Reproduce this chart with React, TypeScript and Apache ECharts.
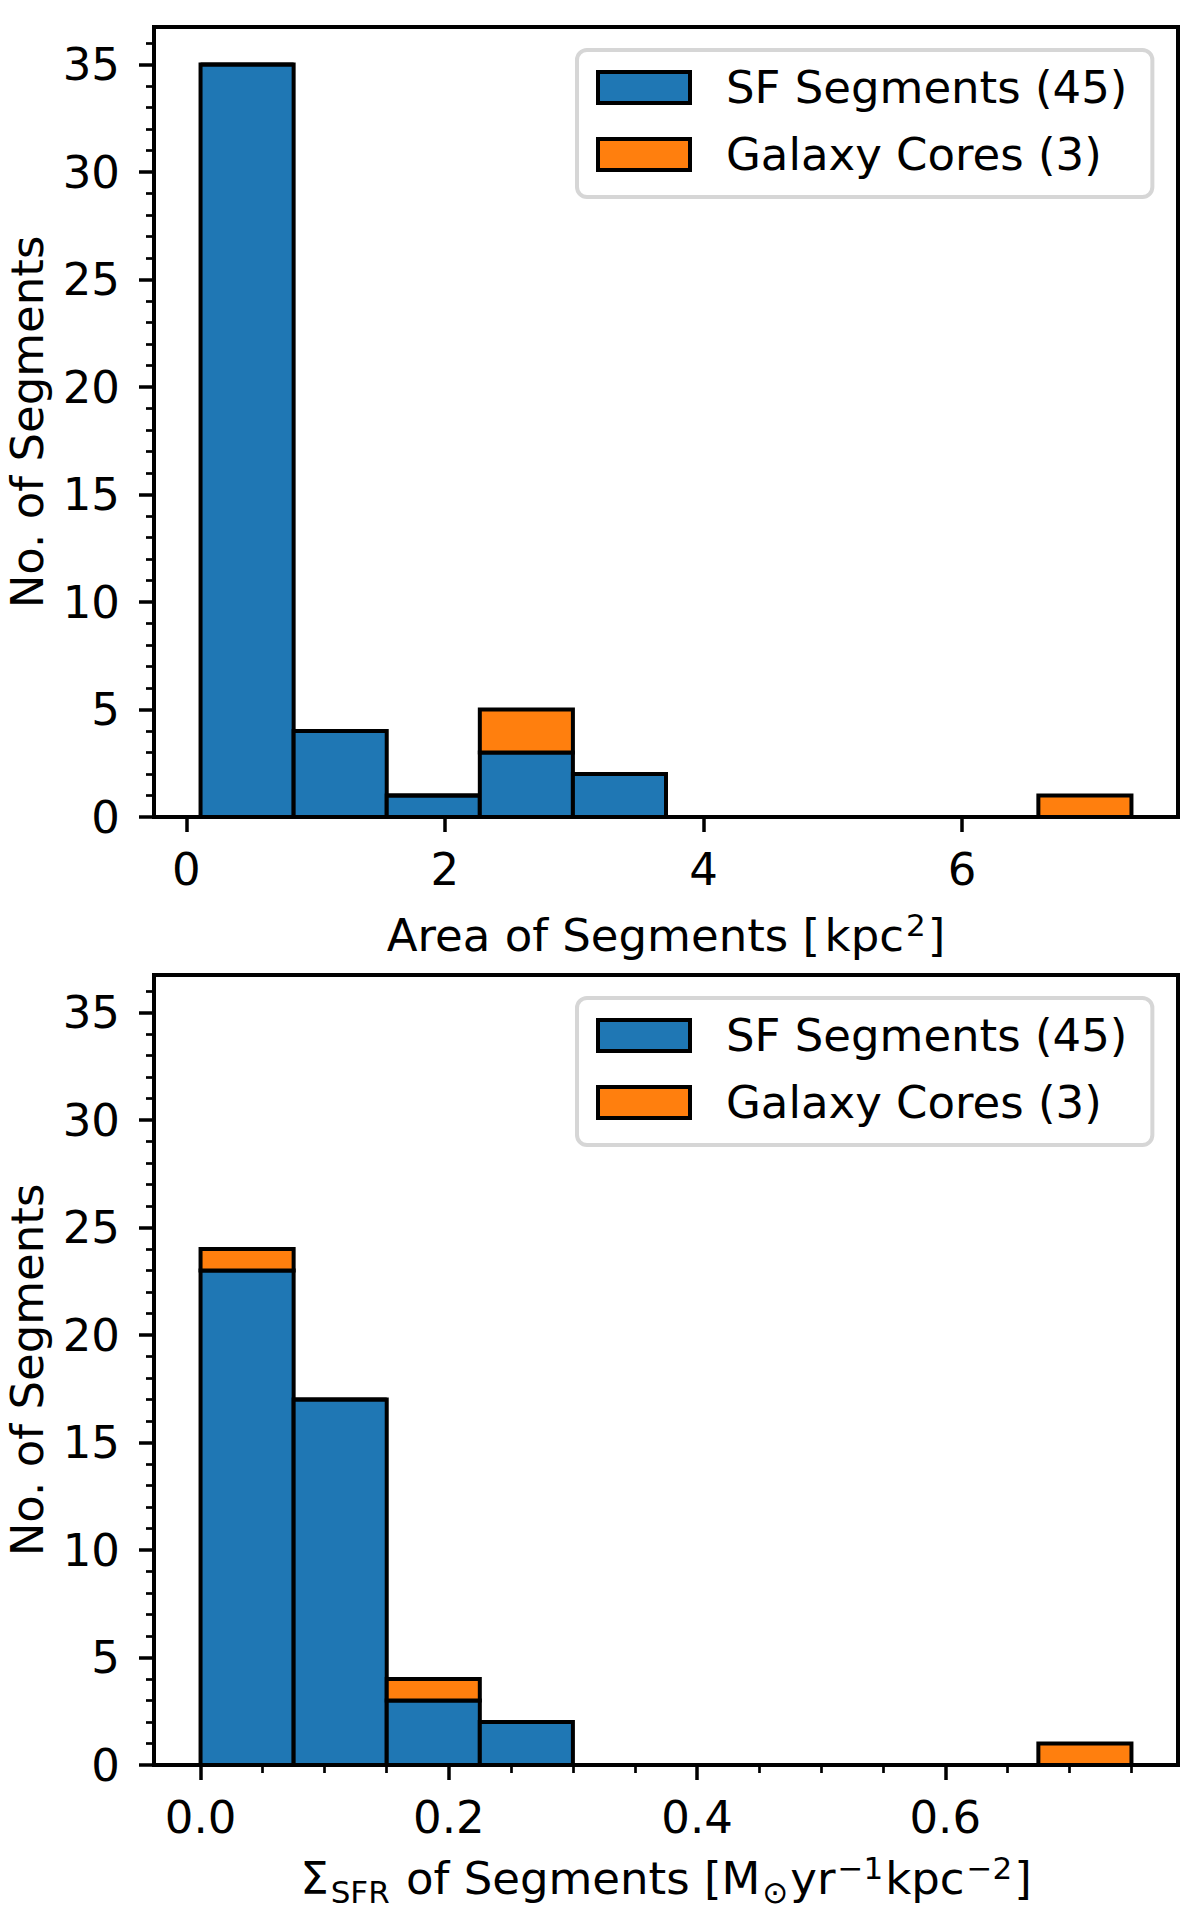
import React, { useEffect, useRef } from "react";
import * as echarts from "echarts";

const FONT = "DejaVu Sans";

// ---- data ----
const areaBinEdges = [0.11, 0.83, 1.55, 2.27, 2.99, 3.71, 4.43, 5.15, 5.87, 6.59, 7.31];
const areaSF = [35, 4, 1, 3, 2, 0, 0, 0, 0, 0];
const areaCores = [0, 0, 0, 2, 0, 0, 0, 0, 0, 1];

const sfrBinEdges = [0, 0.075, 0.15, 0.225, 0.3, 0.375, 0.45, 0.525, 0.6, 0.675, 0.75];
const sfrSF = [23, 17, 3, 2, 0, 0, 0, 0, 0, 0];
const sfrCores = [1, 0, 1, 0, 0, 0, 0, 0, 0, 1];

const yMajorTicks = [0, 5, 10, 15, 20, 25, 30, 35];
const yMinorTicks = [1, 2, 3, 4, 6, 7, 8, 9, 11, 12, 13, 14, 16, 17, 18, 19, 21, 22, 23, 24, 26, 27, 28, 29, 31, 32, 33, 34, 36];
const areaXTicks = [0, 2, 4, 6];
const sfrXTicks = [0, 0.2, 0.4, 0.6];
const sfrXMinorTicks = [0.05, 0.1, 0.15, 0.25, 0.3, 0.35, 0.45, 0.5, 0.55, 0.65, 0.7, 0.75];

const seriesNames = ["SF Segments (45)", "Galaxy Cores (3)"];
const seriesColors = ["#1f77b4", "#ff7f0e"];

const yLabel = "No. of Segments";
const areaXLabel = "Area of Segments [\u200Akpc{sup|2}]";
const sfrXLabel = "Σ{sub|SFR} of Segments [M{sub|⊙}yr{sup|−1}kpc{sup|−2}]";

const areaRange = [-0.25, 7.67];
const sfrRange = [-0.0375, 0.7875];
const yRange = [0, 36.75];

// ---- layout ----
const GRID_LEFT = 154;
const GRID_WIDTH = 1024;
const GRID_HEIGHT = 790;
const GRID_TOPS = [27, 975];
const FS = 45;

const richStyles = {
  sup: { fontSize: 31, fontFamily: FONT, color: "#000", lineHeight: 28, padding: [0, 2, 20, 2] },
  sub: { fontSize: 31, fontFamily: FONT, color: "#000", lineHeight: 22, padding: [27, 2, 0, 2] },
};

function histSeries(name: string, color: string, edges: number[], counts: number[], base: number[], xi: number, yi: number) {
  const data = counts.map((c, i) => [edges[i], edges[i + 1], base[i], base[i] + c]);
  return {
    type: "custom",
    name,
    xAxisIndex: xi,
    yAxisIndex: yi,
    itemStyle: { color },
    encode: { x: [0, 1], y: [2, 3] },
    clip: false,
    z: 3,
    renderItem: (params: any, api: any) => {
      const p0 = api.coord([api.value(0), api.value(2)]);
      const p1 = api.coord([api.value(1), api.value(3)]);
      return {
        type: "rect",
        shape: { x: p0[0], y: p1[1], width: p1[0] - p0[0], height: p0[1] - p1[1] },
        style: { fill: color, stroke: "#000", lineWidth: 4 },
      };
    },
    data,
  };
}

function majorXAxis(grid: number, range: number[], ticks: number[], name: string, fmt: (v: number) => string, nameGap: number) {
  return {
    type: "value",
    gridIndex: grid,
    position: "bottom",
    min: range[0],
    max: range[1],
    axisLine: { show: false, onZero: false },
    splitLine: { show: false },
    axisTick: { show: true, customValues: ticks, length: 15, lineStyle: { color: "#000", width: 3.5 } },
    axisLabel: {
      show: true,
      customValues: ticks,
      formatter: fmt,
      fontSize: FS,
      fontFamily: FONT,
      color: "#000",
      margin: 30,
      lineHeight: FS,
    },
    name,
    nameLocation: "middle",
    nameGap,
    nameTextStyle: { fontSize: FS, fontFamily: FONT, color: "#000", lineHeight: 50, rich: richStyles },
  };
}

function minorXAxis(grid: number, range: number[], ticks: number[]) {
  return {
    type: "value",
    gridIndex: grid,
    position: "bottom",
    min: range[0],
    max: range[1],
    axisLine: { show: false, onZero: false },
    splitLine: { show: false },
    axisTick: { show: true, customValues: ticks, length: 8, lineStyle: { color: "#000", width: 2.7 } },
    axisLabel: { show: false },
  };
}

function majorYAxis(grid: number) {
  return {
    type: "value",
    gridIndex: grid,
    position: "left",
    min: yRange[0],
    max: yRange[1],
    axisLine: { show: false, onZero: false },
    splitLine: { show: false },
    axisTick: { show: true, customValues: yMajorTicks, length: 15, lineStyle: { color: "#000", width: 3.5 } },
    axisLabel: {
      show: true,
      customValues: yMajorTicks,
      fontSize: FS,
      fontFamily: FONT,
      color: "#000",
      margin: 34,
    },
    name: yLabel,
    nameLocation: "middle",
    nameRotate: 90,
    nameGap: 104,
    nameTextStyle: { fontSize: FS, fontFamily: FONT, color: "#000", lineHeight: 45 },
  };
}

function minorYAxis(grid: number) {
  return {
    type: "value",
    gridIndex: grid,
    position: "left",
    min: yRange[0],
    max: yRange[1],
    axisLine: { show: false, onZero: false },
    splitLine: { show: false },
    axisTick: { show: true, customValues: yMinorTicks, length: 8, lineStyle: { color: "#000", width: 2.7 } },
    axisLabel: { show: false },
  };
}

function legendAt(top: number) {
  return {
    show: true,
    left: 577,
    top,
    orient: "vertical",
    data: seriesNames,
    selectedMode: false,
    icon: "rect",
    itemWidth: 92,
    itemHeight: 31,
    itemGap: 22,
    itemStyle: { borderColor: "#000", borderWidth: 4 },
    textStyle: { fontSize: FS, fontFamily: FONT, color: "#000", padding: [0, 0, 0, 31] },
    backgroundColor: "#fff",
    borderColor: "#d6d6d6",
    borderWidth: 4,
    borderRadius: 10,
    padding: [15, 25, 20, 19],
  };
}

export default function App() {
  const ref = useRef<HTMLDivElement>(null);

  useEffect(() => {
    document.body.style.margin = "0";
    if (!ref.current) return;
    const chart = echarts.init(ref.current, undefined, { renderer: "svg" });

    const oneDecimal = (v: number) => v.toFixed(1);
    const integer = (v: number) => String(Math.round(v));

    const option = {
      animation: false,
      backgroundColor: "#fff",
      grid: GRID_TOPS.map((top) => ({
        left: GRID_LEFT,
        top,
        width: GRID_WIDTH,
        height: GRID_HEIGHT,
        show: true,
        borderColor: "#000",
        borderWidth: 4,
        backgroundColor: "transparent",
        containLabel: false,
        outerBoundsMode: "none",
      })),
      xAxis: [
        majorXAxis(0, areaRange, areaXTicks, areaXLabel, integer, 93),
        majorXAxis(1, sfrRange, sfrXTicks, sfrXLabel, oneDecimal, 88),
        minorXAxis(1, sfrRange, sfrXMinorTicks),
      ],
      yAxis: [majorYAxis(0), majorYAxis(1), minorYAxis(0), minorYAxis(1)],
      legend: [legendAt(50), legendAt(50 + GRID_TOPS[1] - GRID_TOPS[0])],
      series: [
        histSeries(seriesNames[0], seriesColors[0], areaBinEdges, areaSF, areaSF.map(() => 0), 0, 0),
        histSeries(seriesNames[1], seriesColors[1], areaBinEdges, areaCores, areaSF, 0, 0),
        histSeries(seriesNames[0], seriesColors[0], sfrBinEdges, sfrSF, sfrSF.map(() => 0), 1, 1),
        histSeries(seriesNames[1], seriesColors[1], sfrBinEdges, sfrCores, sfrSF, 1, 1),
      ],
    };

    chart.setOption(option as any);
    return () => {
      chart.dispose();
    };
  }, []);

  return (
    <div
      ref={ref}
      style={{ position: "absolute", left: 0, top: 0, width: 1200, height: 1910 }}
    />
  );
}
